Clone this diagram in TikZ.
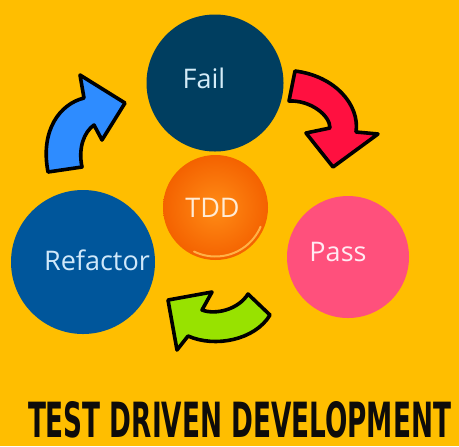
\documentclass[tikz,border=0pt]{standalone}
\usepackage{fontspec}
\usepackage{graphicx}
\setmainfont{Open Sans}
\newfontfamily\titlefont{DejaVu Sans Condensed Bold}
\usetikzlibrary{calc}
\definecolor{bgamber}{RGB}{255,190,0}
\definecolor{failfill}{RGB}{0,62,96}
\definecolor{failtext}{RGB}{212,236,248}
\definecolor{refactorfill}{RGB}{0,86,155}
\definecolor{refactortext}{RGB}{208,232,250}
\definecolor{passfill}{RGB}{255,80,124}
\definecolor{passtext}{RGB}{255,234,242}
\definecolor{tddinner}{RGB}{255,140,22}
\definecolor{tddouter}{RGB}{244,98,0}
\definecolor{tddtext}{RGB}{255,236,214}
\definecolor{tddshine}{RGB}{255,178,70}
\definecolor{redarrow}{RGB}{255,16,64}
\definecolor{bluearrow}{RGB}{46,140,255}
\definecolor{greenarrow}{RGB}{152,226,0}
\definecolor{titleink}{RGB}{14,12,10}
\tikzset{
  phase/.style={circle, inner sep=0pt, draw=none},
  phaselabel/.style={font=\fontsize{13.5}{16}\selectfont, inner sep=0pt},
  tddball/.style={circle, inner sep=0pt, draw=none, shading=radial, inner color=tddinner, outer color=tddouter},
  shine/.style={line width=1pt, color=tddshine, line cap=round},
  blockarrow/.style={draw=black, line width=1.8pt, line join=round},
  titletext/.style={font=\titlefont\fontsize{26}{30}\selectfont, text=titleink, inner sep=0pt},
}

\begin{document}
\begin{tikzpicture}[x=0.5pt, y=-0.5pt]

  % --- Background ---
  \fill[bgamber] (0,0) rectangle (459,446);
  \useasboundingbox (0,0) rectangle (459,446);

  % --- Phases ---
  \node[phase, fill=failfill, minimum size=68.5pt,
        label={[phaselabel, text=failtext, xshift=-5.5pt, yshift=2.5pt]center:Fail}] (fail) at (215,83) {};
  \node[tddball, minimum size=52.5pt,
        label={[phaselabel, text=tddtext, xshift=-1.5pt]center:TDD}] (tdd) at (215.5,207.5) {};
  \node[phase, fill=refactorfill, minimum size=72pt,
        label={[phaselabel, text=refactortext, xshift=7pt, yshift=1pt]center:Refactor}] (refactor) at (83,262) {};
  \node[phase, fill=passfill, minimum size=61pt,
        label={[phaselabel, text=passtext, xshift=-5pt, yshift=2.5pt]center:Pass}] (pass) at (348,257) {};

  % --- Highlight on the ball ---
  \draw[shine] ([shift={(-23:24.5pt)}]tdd.center) arc[start angle=-23, end angle=-116, radius=24.5pt];

  % --- Block arrows ---
  \filldraw[blockarrow, fill=bluearrow] (48,172) .. controls (40,130) and (60,104) .. (84,98)
    -- (80,75) -- (125,103) -- (102,140) -- (94,125)
    .. controls (84,132) and (78,148) .. (82,167) -- cycle;
  \filldraw[blockarrow, fill=redarrow] (295,71) .. controls (335,76) and (360,105) .. (356,132)
    -- (378,134) -- (333,167) -- (306,133) -- (330,128)
    .. controls (330,115) and (310,100) .. (289,101) -- cycle;
  \filldraw[blockarrow, fill=greenarrow] (270,315) .. controls (255,340) and (215,348) .. (188,336)
    -- (177,350) -- (168,300) -- (212,292) -- (202,310)
    .. controls (215,315) and (238,310) .. (248,294) -- cycle;

  % --- Title ---
  \node[titletext] (title) at (239.5,419.5) {\resizebox{211.5pt}{18pt}{TEST DRIVEN DEVELOPMENT}};

\end{tikzpicture}
\end{document}
